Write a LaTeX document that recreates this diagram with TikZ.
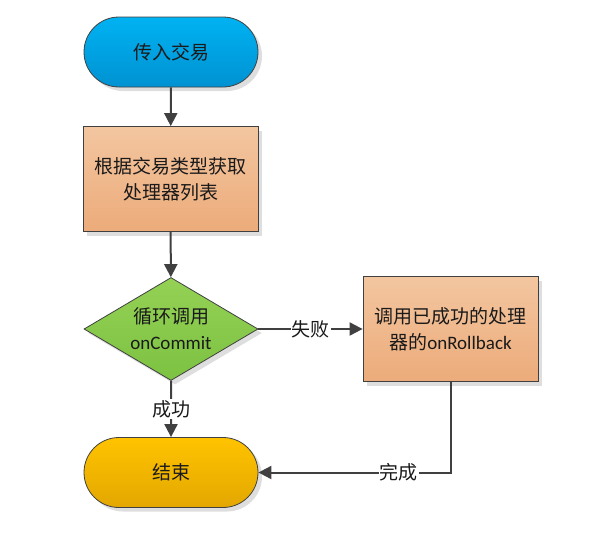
\documentclass[tikz,border=0pt]{standalone}
\usepackage{fontspec}
\setmainfont{Carlito}
\newfontfamily\cjk{Noto Sans CJK SC}
\usetikzlibrary{shapes.geometric,shapes.misc,arrows.meta,shadows}
\definecolor{edgec}{HTML}{404040}
\definecolor{txtc}{HTML}{1A1A1A}
\definecolor{bluT}{HTML}{00B2F2}
\definecolor{bluB}{HTML}{0092D2}
\definecolor{orgT}{HTML}{F3C6A0}
\definecolor{orgB}{HTML}{ECAB7A}
\definecolor{grnT}{HTML}{94D155}
\definecolor{grnB}{HTML}{7DC242}
\definecolor{ylwT}{HTML}{FFC300}
\definecolor{ylwB}{HTML}{E3A700}
\begin{document}
\begin{tikzpicture}[x=1pt,y=-1pt,
  font=\fontsize{19}{26}\selectfont,
  shad/.style={drop shadow={shadow xshift=4pt,shadow yshift=-4pt,fill=black!13,opacity=1}},
  term/.style={rounded rectangle,draw=edgec,line width=0.8pt,minimum width=174pt,minimum height=70pt,inner sep=0pt,text=txtc,shad},
  procbox/.style={rectangle,draw=edgec,line width=0.8pt,minimum width=175pt,minimum height=105pt,inner sep=0pt,align=center,text=txtc,top color=orgT,bottom color=orgB,shad},
  decbox/.style={diamond,draw=edgec,line width=0.8pt,minimum width=174pt,minimum height=103pt,inner sep=0pt,shape aspect=1.69,align=center,text=txtc,top color=grnT,bottom color=grnB,shad},
  arr/.style={draw=edgec,line width=2pt,-{Triangle[width=13pt,length=13pt]}},
  lbl/.style={fill=white,inner sep=1pt,text=txtc}]
\useasboundingbox (0,0) rectangle (589,557);

\node[term,top color=bluT,bottom color=bluB] (start) at (171,52) {\cjk 传入交易};
\node[procbox] (proc) at (170.5,179) {\cjk 根据交易类型获取\\\cjk 处理器列表};
\node[decbox] (dec) at (171,329) {\cjk 循环调用\\onCommit};
\node[procbox] (rb) at (450.5,329) {\cjk 调用已成功的处理\\{\cjk 器的}onRollback};
\node[term,top color=ylwT,bottom color=ylwB] (end) at (171,472.5) {\cjk 结束};

\draw[arr] (start) -- (proc);
\draw[arr] (proc) -- (dec);
\draw[arr] (dec) -- node[lbl]{\cjk 成功} (end);
\draw[arr] (dec) -- node[lbl]{\cjk 失败} (rb);
\draw[arr] (rb.south) |- node[lbl,pos=0.635]{\cjk 完成} (end.east);
\end{tikzpicture}
\end{document}
